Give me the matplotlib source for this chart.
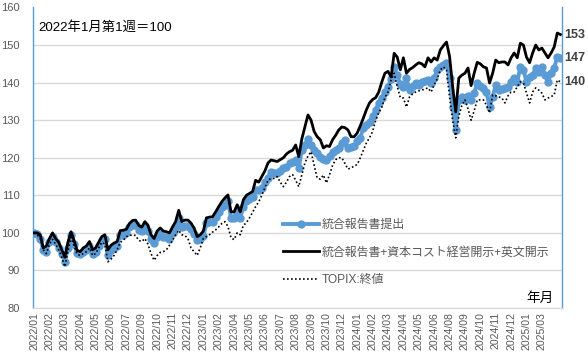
import matplotlib
matplotlib.use("Agg")
import matplotlib.pyplot as plt

plt.rcParams['font.family'] = ['Liberation Sans', 'Noto Sans CJK JP', 'DejaVu Sans']

# weekly index, 2022年1月第1週 = 100
tick_labels = ['2022/01', '2022/02', '2022/03', '2022/04', '2022/05', '2022/06', '2022/07', '2022/09',
               '2022/10', '2022/11', '2022/12', '2023/01', '2023/02', '2023/04', '2023/05', '2023/06',
               '2023/07', '2023/08', '2023/09', '2023/10', '2023/12', '2024/01', '2024/02', '2024/03',
               '2024/04', '2024/05', '2024/06', '2024/08', '2024/09', '2024/10', '2024/11', '2024/12',
               '2025/01', '2025/03']
tick_step = 5

blue_vals = [
    100, 99.8, 98.5, 95.5, 95, 97.5, 99, 97.5, 96, 94.5,
    92.3, 96, 99.5, 97, 94.7, 94.5, 95, 95.5, 96.5, 94.5,
    95, 96.5, 98, 98.5, 94, 95.5, 96, 96.5, 99.5, 99.5,
    100, 101.5, 102, 102, 100.8, 100.5, 101.8, 100.5, 98.5, 97.3,
    99, 99.8, 99, 98.8, 98.5, 100, 101.5, 104, 101.5, 101.8,
    101.8, 101, 99.8, 98, 98.5, 99.2, 102.5, 102.8, 103, 104.3,
    105.5, 106.8, 107.5, 108.5, 104, 104, 105.5, 104, 107, 108.5,
    109, 109.5, 111.4, 111.5, 112, 113.5, 114.6, 116.2, 116, 116,
    116.5, 117.3, 117.5, 118.5, 119, 119.5, 117.3, 122, 123.5, 125,
    123.5, 122, 121.3, 120.2, 119.8, 119.4, 120.5, 121.6, 122, 122.6,
    124, 124.8, 122.6, 122.8, 123, 124.5, 125.3, 128, 128.8, 129.6,
    131, 132.8, 134.6, 136, 137.5, 138.9, 141, 144.2, 142, 139.5,
    138.9, 141.2, 138, 139, 139.9, 139.4, 140.2, 140.5, 140.7, 139.9,
    141.2, 143.4, 144.2, 144.7, 145.3, 141.2, 133.5, 127.5, 135.4, 136.2,
    135.5, 136.5, 135.4, 137.2, 139.9, 139, 138.6, 137.5, 133.5, 136.2,
    139.4, 138, 138.3, 138.6, 138.9, 140.2, 141.2, 140.2, 144.2, 143.4,
    140.2, 141.5, 142, 143.9, 142.8, 144.2, 142, 140.2, 142.5, 143.9,
    146.8, 146.6]

black_vals = [
    100, 100, 99.5, 96, 96.5, 98.5, 100, 98.5, 97.5, 95.5,
    93.5, 97.5, 100.3, 98, 95.3, 95, 96, 96.5, 97.7, 95.5,
    96, 97.5, 99, 99.5, 95.5, 96.7, 97.3, 97.7, 100.6, 100.7,
    101, 102.5, 103.3, 103.4, 102, 101.5, 103, 102, 99.5, 98.5,
    100.5, 101.3, 100.5, 100.3, 100, 101.6, 103, 106, 103, 103.4,
    103.4, 102.6, 101.3, 99, 99.5, 100.5, 104, 104.2, 104.3, 105.6,
    107, 108.3, 109.3, 110.1, 105.6, 105.6, 107.5, 105.6, 108.8, 110,
    110.5, 111, 114, 113.5, 115, 116.5, 118.6, 119.4, 119.2, 119,
    119.5, 120, 121, 121.6, 122, 123.4, 120.3, 125, 128.2, 131.4,
    130, 127, 125.6, 124.8, 122.6, 123.2, 123, 124.8, 126, 127.4,
    128.2, 128, 127.4, 125.6, 125.6, 126.6, 128.5, 130.6, 132.8, 134.6,
    135.5, 136, 137.5, 140.2, 142.5, 143, 141.5, 147.8, 146.8, 143.4,
    146.6, 142.5, 143.5, 144, 144.7, 145.3, 145, 144.2, 146.6, 145.5,
    146.6, 146, 148.7, 149.8, 150.8, 147, 139, 132.2, 141.2, 142,
    142.5, 143.9, 139.2, 142.5, 145.4, 145, 144.2, 143.9, 139.9, 142.5,
    146, 145.3, 145.5, 145.5, 144.7, 146.6, 147.9, 146.6, 150.5, 150,
    146.8, 145.3, 147.9, 150, 148.7, 149.2, 147.9, 146.6, 147.9, 149.5,
    153.2, 152.8]

topix_vals = [
    100, 99.5, 98.5, 95.5, 94.5, 97, 98.3, 97, 95.5, 93.5,
    91, 95, 98.8, 96.5, 94.3, 94, 94.5, 95, 96, 94,
    94.5, 96, 97.5, 97, 92.3, 93, 94, 95.5, 97.5, 98,
    99, 99.3, 99.5, 99.3, 98, 97.7, 98.5, 97, 94.5, 92.7,
    94, 94.8, 95, 95.5, 96.7, 98, 99.5, 100.7, 99.5, 99.3,
    98.5, 96, 95, 94, 96, 98.5, 99, 99.5, 100.2, 100.8,
    101.6, 102.5, 103, 101.7, 98.7, 98.2, 100, 99.5, 102, 102.7,
    104, 105.5, 107, 108.3, 110, 112, 114, 114.5, 114.5, 115,
    113.5, 112.3, 113.5, 115, 115.5, 114, 112.3, 115.5, 118.6, 120.5,
    121.6, 118, 114.6, 114.3, 115.4, 113.3, 115.5, 118, 119.5, 120,
    120, 118.5, 117, 117.3, 117.8, 118.2, 120, 122, 124, 125.3,
    127, 130, 132, 133.5, 136, 137.5, 140.7, 142.5, 139, 136,
    135.9, 133.5, 136.2, 137, 137.5, 137.8, 138, 138.3, 138.6, 137.5,
    139.4, 141, 143.4, 144.2, 143.4, 136.2, 130, 125.3, 131, 134,
    135.4, 133, 130, 132.5, 135.4, 135.4, 135.4, 134, 131.9, 136.7,
    136.5, 136.2, 135.9, 134.6, 136.5, 137.5, 137.5, 138.9, 140.2, 139.9,
    137.2, 134.6, 137.5, 138.6, 138, 137.2, 135.4, 135.9, 136.3, 136.7,
    140.7, 140.2]

names = ['統合報告書提出', '統合報告書+資本コスト経営開示+英文開示', 'TOPIX:終値']

n = len(black_vals)
x = list(range(n))

fig = plt.figure(figsize=(5.88, 3.6), dpi=100)
ax = fig.add_axes([0.0553, 0.1444, 0.9003, 0.8348])

ax.plot(x, blue_vals, color='#5b9bd5', lw=2.8, marker='o', ms=5, label=names[0], zorder=3)
ax.plot(x, black_vals, color='black', lw=2.0, label=names[1], zorder=4)
ax.plot(x, topix_vals, color='black', lw=1.2, ls=(0, (1, 1.4)), label=names[2], zorder=5)

ax.set_xlim(-0.5, n - 0.5)
ax.set_ylim(80, 160)
ax.set_yticks(range(80, 161, 10))
ax.set_xticks(range(0, tick_step * len(tick_labels), tick_step))
ax.set_xticklabels(tick_labels, rotation=90)
ax.tick_params(axis='x', length=0, labelsize=7.6, colors='#595959', pad=3)
ax.tick_params(axis='y', length=0, labelsize=8, colors='#595959', pad=9)

ax.yaxis.grid(True, color='#d9d9d9', lw=1)
ax.set_axisbelow(True)
ax.get_ygridlines()[-1].set_visible(False)

for s in ['left', 'right']:
    ax.spines[s].set_color('#5b9bd5')
    ax.spines[s].set_linewidth(1)
ax.spines['top'].set_visible(False)
ax.spines['bottom'].set_color('#d9d9d9')

ax.text(0.012, 0.935, '2022年1月第1週＝100', transform=ax.transAxes, fontsize=9.6,
        ha='left', va='center', color='black')
ax.text(0.985, 0.035, '年月', transform=ax.transAxes, fontsize=9.8,
        ha='right', va='center', color='black')

# end-of-line value labels
for vals in [black_vals, blue_vals, topix_vals]:
    ax.annotate(f"{round(vals[-1])}", xy=(n - 1, vals[-1]), xytext=(3, 0),
                textcoords='offset points', ha='left', va='center',
                fontsize=9, fontweight='bold', color='#404040', annotation_clip=False)

leg = ax.legend(loc='upper left', bbox_to_anchor=(0.473, 0.297), frameon=False,
                fontsize=8.6, labelcolor='#595959', handlelength=3.0, handletextpad=0.25,
                labelspacing=1.3, borderpad=0, borderaxespad=0)

fig.savefig('out.png', dpi=100)
